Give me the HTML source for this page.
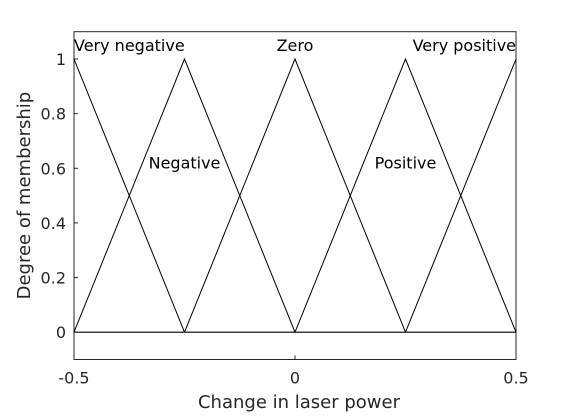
<!DOCTYPE html>
<html><head><meta charset="utf-8"><style>
body{margin:0;background:#fff;}
svg text{font-family:"DejaVu Sans","Liberation Sans",sans-serif;}
</style></head><body>
<svg width="570" height="413">
<g id="plot"></g>
</svg>
<script>
const mfNames = ["Very negative","Negative","Zero","Positive","Very positive"];
const mfParams = [[-0.75,-0.5,-0.25],[-0.5,-0.25,0],[-0.25,0,0.25],[0,0.25,0.5],[0.25,0.5,0.75]];
const labelPos = [[-0.5,1.04,"start"],[-0.25,0.6,"middle"],[0,1.04,"middle"],[0.25,0.6,"middle"],[0.5,1.04,"end"]];
const xTicks = [-0.5,0,0.5];
const xTickLabels = ["-0.5","0","0.5"];
const yTicks = [0,0.2,0.4,0.6,0.8,1];
const yTickLabels = ["0","0.2","0.4","0.6","0.8","1"];
const L=74,R=516,T=31.7,B=359.5;
const xS=v=>L+(v+0.5)/1*(R-L);
const yS=v=>B-(v+0.1)/1.2*(B-T);
const NS="http://www.w3.org/2000/svg";
const g=document.getElementById('plot');
function mk(t,a){const e=document.createElementNS(NS,t);for(const k in a)e.setAttribute(k,a[k]);g.appendChild(e);return e;}
mk('rect',{x:L,y:T,width:R-L,height:B-T,fill:'#fff',stroke:'#262626','stroke-width':1});
mfParams.forEach((p,i)=>{
 const pts=[];
 [[p[0],0],[p[1],1],[p[2],0]].forEach(([x,y])=>{const cx=Math.min(Math.max(x,-0.5),0.5);const yy=x<-0.5||x>0.5?(x<-0.5?(cx-p[0])/(p[1]-p[0]):(p[2]-cx)/(p[2]-p[1])):y;pts.push(xS(cx)+','+yS(yy));});
 const pl=mk('polyline',{points:pts.join(' '),fill:'none',stroke:'#000','stroke-width':1});
 
 
});
const base=mk('line',{x1:L,x2:R,y1:yS(0),y2:yS(0),stroke:'#000','stroke-width':1.2});

labelPos.forEach((lp,i)=>{
 const t=mk('text',{x:xS(lp[0]),y:yS(lp[1])+(lp[1]>1?3:0),'text-anchor':lp[2],'font-size':16,fill:'#000'});
 t.textContent=mfNames[i];
 
 
});
xTicks.forEach((v,i)=>{
 mk('line',{x1:xS(v),x2:xS(v),y1:B,y2:B-4,stroke:'#262626'});
 const t=mk('text',{x:xS(v),y:B+24,'text-anchor':'middle','font-size':16,fill:'#262626'});
 t.textContent=xTickLabels[i];
 
 
});
yTicks.forEach((v,i)=>{
 mk('line',{x1:L,x2:L+4,y1:yS(v),y2:yS(v),stroke:'#262626'});
 const t=mk('text',{x:L-8,y:yS(v)+6,'text-anchor':'end','font-size':16,fill:'#262626'});
 t.textContent=yTickLabels[i];
 
 
});
const xt=mk('text',{x:(L+R)/2+4,y:408,'text-anchor':'middle','font-size':18,fill:'#262626'});
xt.textContent='Change in laser power';


const yt=mk('text',{x:0,y:0,'text-anchor':'middle','font-size':18,fill:'#262626',transform:`translate(30,${(T+B)/2}) rotate(-90)`});
yt.textContent='Degree of membership';


</script>
</body></html>
